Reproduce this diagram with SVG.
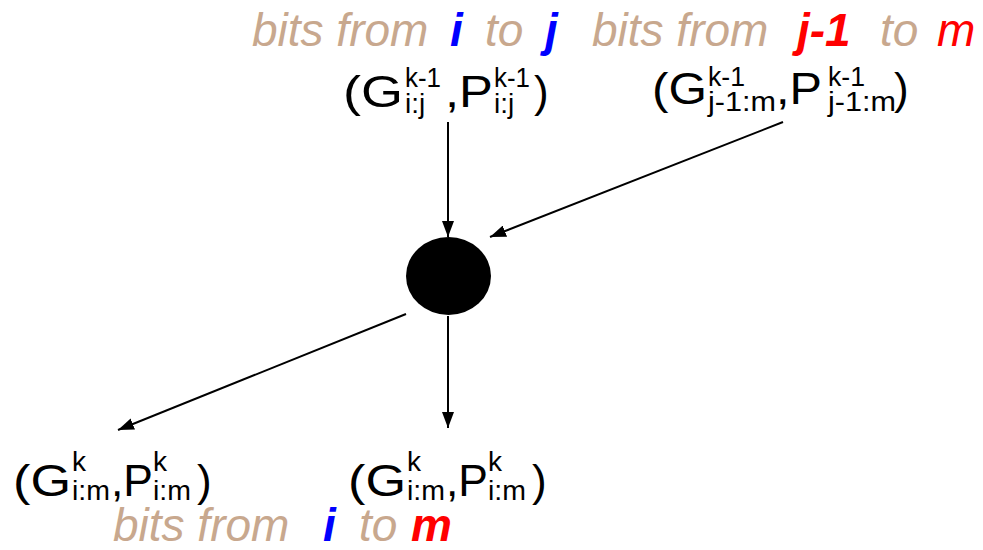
<svg xmlns="http://www.w3.org/2000/svg" width="983" height="550" viewBox="0 0 983 550">
<style>
.cap{font-family:"Liberation Sans",Arial,sans-serif;font-style:italic;font-size:46px;fill:#C8A88E}
.b{font-weight:bold}
.blue{fill:#0000FF}
.red{fill:#FF0000}
.m{font-family:"Liberation Sans",Arial,sans-serif;font-size:44px;fill:#000}
.s{font-size:28px}
.ln{stroke:#000;stroke-width:2;fill:none;marker-end:url(#ah)}
</style>
<defs>
<marker id="ah" viewBox="0 0 16 12" refX="16" refY="6" markerWidth="16" markerHeight="12" markerUnits="userSpaceOnUse" orient="auto">
<path d="M0,0 L16,6 L0,12 Z" fill="#000"/>
</marker>
</defs>
<rect width="983" height="550" fill="#fff"/>
<g id="connectors">
<line class="ln" x1="448" y1="122" x2="448" y2="237"/>
<line class="ln" x1="783" y1="122" x2="490" y2="237"/>
<line class="ln" x1="448" y1="316" x2="448" y2="428"/>
<line class="ln" x1="406" y1="314" x2="118" y2="430"/>
</g>
<g id="node-op">
<ellipse cx="448.5" cy="276" rx="42.5" ry="39" fill="#000"/>
</g>
<g id="node-in-left">
<text class="cap" y="46"><tspan x="252">bits from</tspan><tspan x="450" class="b blue">i</tspan><tspan x="485">to</tspan><tspan x="545" class="b blue">j</tspan></text>
<text class="m"><tspan x="343" y="107" textLength="60" lengthAdjust="spacingAndGlyphs">(G</tspan><tspan class="s" x="405" y="87" textLength="36" lengthAdjust="spacingAndGlyphs">k-1</tspan><tspan class="s" x="405" y="113">i:j</tspan><tspan x="445" y="107" textLength="48" lengthAdjust="spacingAndGlyphs">,P</tspan><tspan class="s" x="494" y="87" textLength="36" lengthAdjust="spacingAndGlyphs">k-1</tspan><tspan class="s" x="494" y="113">i:j</tspan><tspan x="534" y="107">)</tspan></text>
</g>
<g id="node-in-right">
<text class="cap" y="46"><tspan x="592">bits from</tspan><tspan x="797" class="b red">j-1</tspan><tspan x="880">to</tspan><tspan x="937" class="red">m</tspan></text>
<text class="m"><tspan x="652" y="104" textLength="55" lengthAdjust="spacingAndGlyphs">(G</tspan><tspan class="s" x="708" y="86" textLength="37" lengthAdjust="spacingAndGlyphs">k-1</tspan><tspan class="s" x="708" y="111" textLength="68" lengthAdjust="spacingAndGlyphs">j-1:m</tspan><tspan x="776" y="104" textLength="46" lengthAdjust="spacingAndGlyphs">,P</tspan><tspan class="s" x="828" y="86" textLength="37" lengthAdjust="spacingAndGlyphs">k-1</tspan><tspan class="s" x="828" y="111" textLength="68" lengthAdjust="spacingAndGlyphs">j-1:m</tspan><tspan x="894" y="104">)</tspan></text>
</g>
<g id="node-out-left">
<text class="m"><tspan x="13" y="496" textLength="58" lengthAdjust="spacingAndGlyphs">(G</tspan><tspan class="s" x="72" y="471">k</tspan><tspan class="s" x="72" y="500" textLength="38" lengthAdjust="spacingAndGlyphs">i:m</tspan><tspan x="111" y="496" textLength="42" lengthAdjust="spacingAndGlyphs">,P</tspan><tspan class="s" x="153" y="471">k</tspan><tspan class="s" x="153" y="500" textLength="38" lengthAdjust="spacingAndGlyphs">i:m</tspan><tspan x="197" y="496">)</tspan></text>
</g>
<g id="node-out-mid">
<text class="m"><tspan x="348" y="496" textLength="58" lengthAdjust="spacingAndGlyphs">(G</tspan><tspan class="s" x="407" y="471">k</tspan><tspan class="s" x="407" y="500" textLength="38" lengthAdjust="spacingAndGlyphs">i:m</tspan><tspan x="446" y="496" textLength="42" lengthAdjust="spacingAndGlyphs">,P</tspan><tspan class="s" x="488" y="471">k</tspan><tspan class="s" x="488" y="500" textLength="38" lengthAdjust="spacingAndGlyphs">i:m</tspan><tspan x="532" y="496">)</tspan></text>
<text class="cap" y="541"><tspan x="113">bits from</tspan><tspan x="323" class="b blue">i</tspan><tspan x="359">to</tspan><tspan x="411" class="b red">m</tspan></text>
</g>
</svg>
